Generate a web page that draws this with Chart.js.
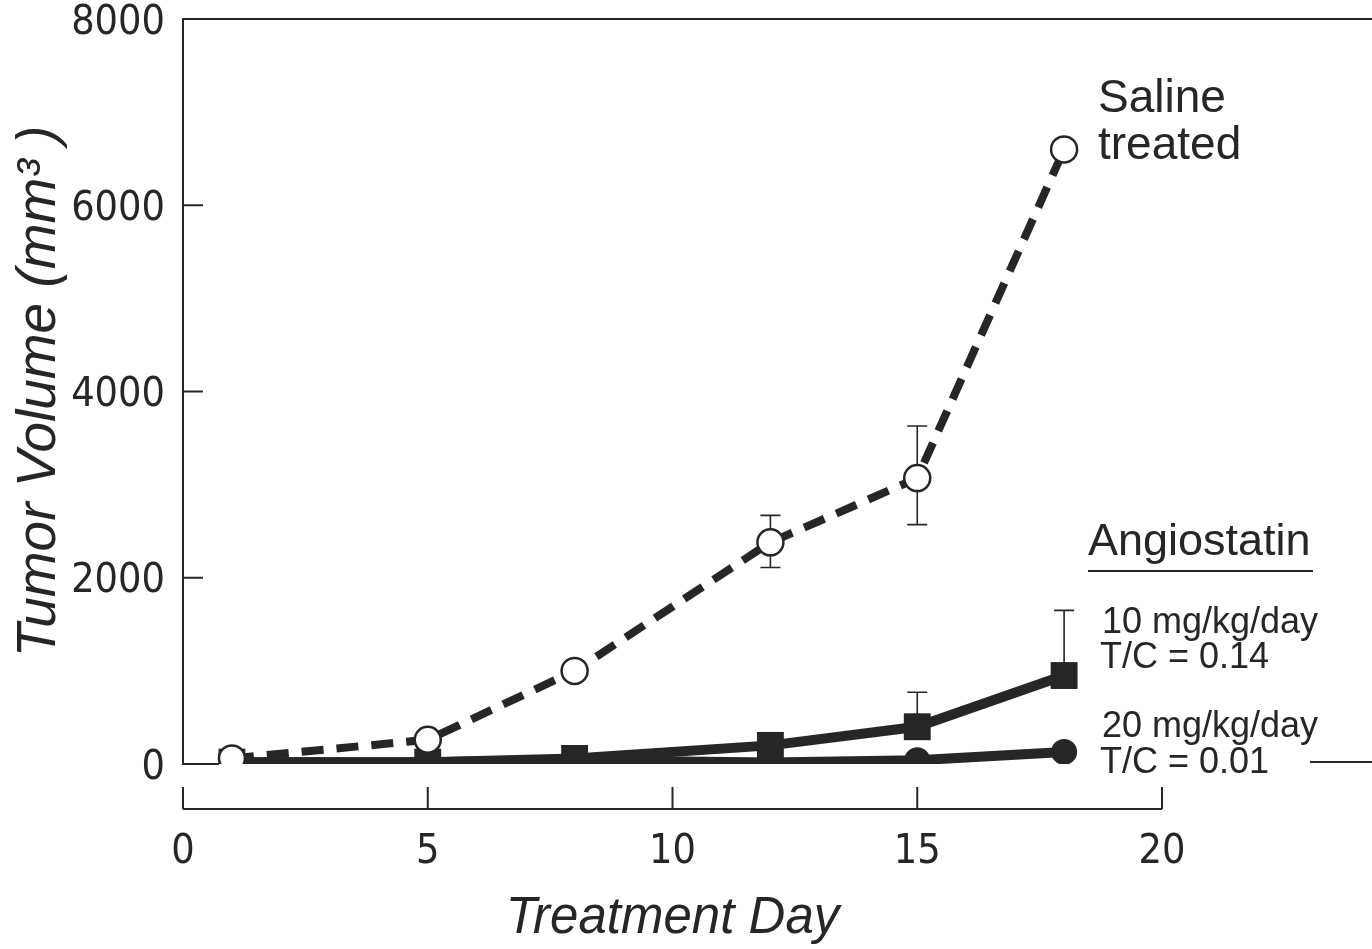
<!DOCTYPE html>
<html>
<head>
<meta charset="utf-8">
<script src="https://cdn.jsdelivr.net/npm/chart.js@4.4.1/dist/chart.umd.min.js"></script>
<style>
  html, body { margin: 0; padding: 0; background: #fff; }
  #wrap { width: 1372px; height: 949px; }
</style>
</head>
<body>
<div id="wrap"><canvas id="tumorChart" width="1372" height="949"></canvas></div>
<script>
// values
const days = [1, 5, 8, 12, 15, 18];
const saline = [60, 260, 1000, 2380, 3070, 6600];
const salineErrUp = [null, null, null, 2670, 3630, null];
const salineErrDown = [null, null, null, 2110, 2570, null];
const dose10 = [20, 20, 60, 200, 400, 950];
const dose10ErrUp = [null, null, null, null, 770, 1650];
const dose20 = [20, 20, 40, 15, 40, 130];
const xTicks = [0, 5, 10, 15, 20];
const yTicks = [0, 2000, 4000, 6000, 8000];

const ink = '#262626';
const sans = "'Liberation Sans', Arial, Helvetica, sans-serif";
const narrow = "'Liberation Sans Narrow', 'Arial Narrow', 'DejaVu Sans Condensed', sans-serif";

const toPoints = vals => days.map((d, i) => ({ x: d, y: vals[i] }));

// axes drawn the old-journal way: top rule, inward ticks, detached x axis
const framePlugin = {
  id: 'frame',
  beforeDatasetsDraw(chart) {
    const { ctx, chartArea: a, scales: { x, y } } = chart;
    ctx.save();
    ctx.strokeStyle = ink;
    ctx.lineWidth = 2;
    ctx.beginPath();
    ctx.moveTo(a.left, a.top);
    ctx.lineTo(chart.width, a.top);
    yTicks.forEach(v => {
      if (v === 8000) return;
      const py = y.getPixelForValue(v);
      ctx.moveTo(a.left, py);
      ctx.lineTo(a.left + (v === 0 ? 36 : 20), py);
    });
    const axisY = a.bottom + 45;
    ctx.moveTo(x.getPixelForValue(0), axisY);
    ctx.lineTo(x.getPixelForValue(20), axisY);
    xTicks.forEach(v => {
      const px = x.getPixelForValue(v);
      ctx.moveTo(px, axisY);
      ctx.lineTo(px, axisY - 22);
    });
    const zeroY = y.getPixelForValue(0) - 2;
    ctx.moveTo(1310, zeroY);
    ctx.lineTo(chart.width, zeroY);
    ctx.stroke();
    ctx.restore();
  }
};

const errorPlugin = {
  id: 'errorBars',
  beforeDatasetsDraw(chart) {
    const { ctx, scales: { x, y } } = chart;
    const bars = [[saline, salineErrUp], [saline, salineErrDown], [dose10, dose10ErrUp]];
    ctx.save();
    ctx.strokeStyle = ink;
    ctx.lineWidth = 1.6;
    bars.forEach(([vals, ends]) => {
      ends.forEach((e, i) => {
        if (e == null) return;
        const px = x.getPixelForValue(days[i]);
        const p0 = y.getPixelForValue(vals[i]);
        const p1 = y.getPixelForValue(e);
        ctx.beginPath();
        ctx.moveTo(px, p0);
        ctx.lineTo(px, p1);
        ctx.moveTo(px - 10, p1);
        ctx.lineTo(px + 10, p1);
        ctx.stroke();
      });
    });
    ctx.restore();
  }
};

const labelPlugin = {
  id: 'seriesLabels',
  afterDraw(chart) {
    const { ctx } = chart;
    ctx.save();
    ctx.fillStyle = ink;
    ctx.textAlign = 'left';
    ctx.textBaseline = 'alphabetic';
    ctx.font = `46px ${sans}`;
    ctx.fillText('Saline', 1098, 112);
    ctx.fillText('treated', 1098, 159);
    ctx.font = `45px ${sans}`;
    ctx.fillText('Angiostatin', 1088, 555);
    ctx.strokeStyle = ink;
    ctx.lineWidth = 2;
    ctx.beginPath();
    ctx.moveTo(1088, 571);
    ctx.lineTo(1313, 571);
    ctx.stroke();
    ctx.font = `36px ${sans}`;
    ctx.fillText('10 mg/kg/day', 1102, 633);
    ctx.fillText('T/C = 0.14', 1100, 668);
    ctx.fillText('20 mg/kg/day', 1102, 737);
    ctx.fillText('T/C = 0.01', 1100, 773);
    ctx.restore();
  }
};

const tickFont = { family: narrow, size: 41 };

new Chart(document.getElementById('tumorChart'), {
  type: 'line',
  data: {
    datasets: [
      {
        label: 'Saline treated',
        data: toPoints(saline),
        borderColor: ink,
        borderWidth: 8,
        borderDash: [22, 13],
        pointStyle: 'circle',
        pointRadius: 13,
        pointBackgroundColor: '#fff',
        pointBorderColor: ink,
        pointBorderWidth: 2.5
      },
      {
        label: '10 mg/kg/day',
        data: toPoints(dose10),
        borderColor: ink,
        borderWidth: 10,
        pointStyle: 'rect',
        pointRadius: 19,
        pointBackgroundColor: ink,
        pointBorderWidth: 0
      },
      {
        label: '20 mg/kg/day',
        data: toPoints(dose20),
        borderColor: ink,
        borderWidth: 10,
        pointStyle: 'circle',
        pointRadius: 13,
        pointBackgroundColor: ink,
        pointBorderWidth: 0
      }
    ]
  },
  options: {
    responsive: false,
    animation: false,
    layout: { padding: { left: 0, top: 18, right: 210, bottom: 0 } },
    plugins: { legend: { display: false }, tooltip: { enabled: false } },
    scales: {
      x: {
        type: 'linear',
        min: 0,
        max: 20,
        afterBuildTicks: s => { s.ticks = xTicks.map(v => ({ value: v })); },
        afterFit: s => { s.height = 185; s.paddingLeft = 0; s.paddingRight = 0; },
        grid: { display: false },
        border: { display: false },
        ticks: { font: tickFont, color: ink, padding: 56, maxRotation: 0 },
        title: {
          display: true,
          text: 'Treatment Day',
          color: ink,
          font: { family: sans, size: 51, style: 'italic' },
          padding: { top: 0, bottom: 0 }
        }
      },
      y: {
        min: 0,
        max: 8000,
        afterBuildTicks: s => { s.ticks = yTicks.map(v => ({ value: v })); },
        afterFit: s => { s.width = 183; s.paddingTop = 0; s.paddingBottom = 0; },
        grid: { display: false, drawTicks: false },
        border: { display: true, color: ink, width: 2 },
        ticks: { font: tickFont, color: ink, padding: 18, labelOffset: 4, callback: v => String(v) },
        title: {
          display: true,
          text: 'Tumor Volume (mm³ )',
          color: ink,
          font: { family: sans, size: 55, style: 'italic' },
          padding: { top: 7, bottom: 0 }
        }
      }
    }
  },
  plugins: [framePlugin, errorPlugin, labelPlugin]
});
</script>
</body>
</html>
